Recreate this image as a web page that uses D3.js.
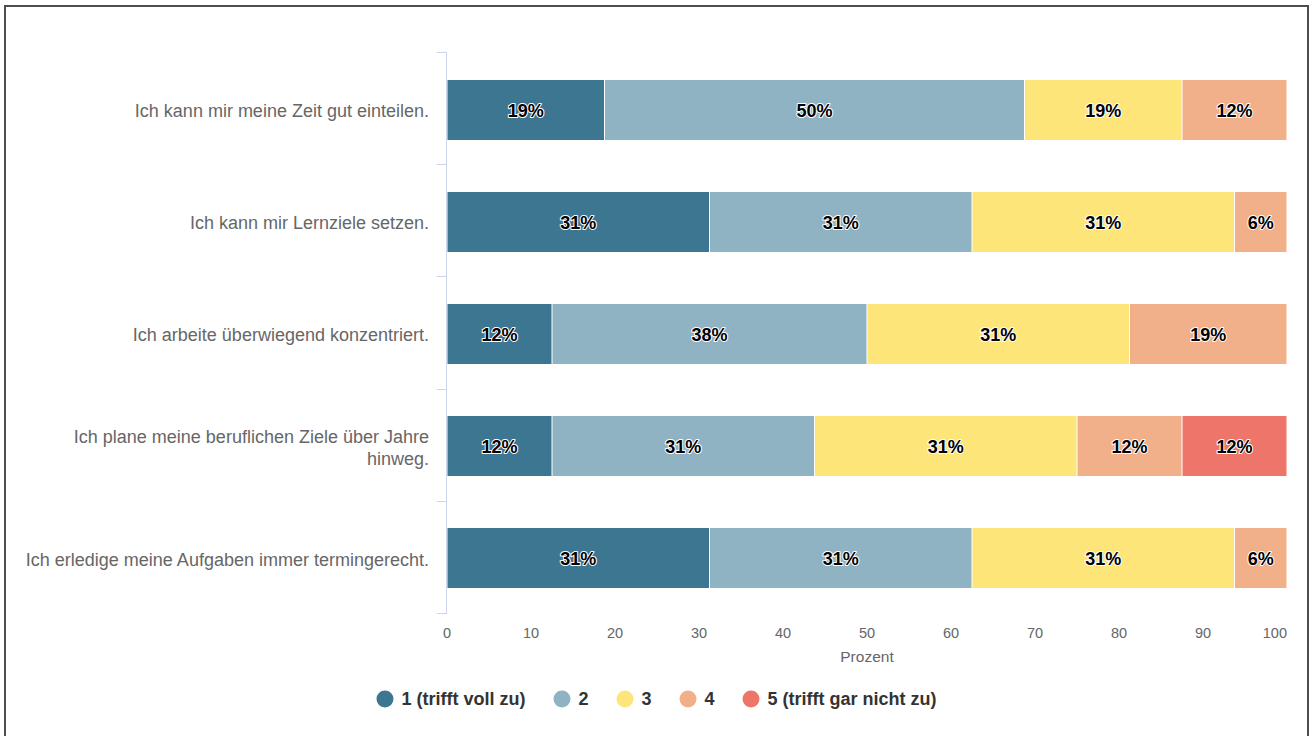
<!DOCTYPE html>
<html>
<head>
<meta charset="utf-8">
<script src="https://cdn.jsdelivr.net/npm/d3@7/dist/d3.min.js"></script>
<style>
  html, body { margin: 0; padding: 0; background: #fff; }
  svg { display: block; font-family: "Liberation Sans", Arial, Helvetica, sans-serif; }
</style>
</head>
<body>
<svg id="chart" width="1311" height="736"></svg>
<script>
// ---- data ----
const categories = [
  "Ich kann mir meine Zeit gut einteilen.",
  "Ich kann mir Lernziele setzen.",
  "Ich arbeite überwiegend konzentriert.",
  "Ich plane meine beruflichen Ziele über Jahre hinweg.",
  "Ich erledige meine Aufgaben immer termingerecht."
];
const seriesNames = ["1 (trifft voll zu)", "2", "3", "4", "5 (trifft gar nicht zu)"];
const seriesColors = ["#3d7690", "#8fb3c3", "#fee57a", "#f1b08a", "#ee756a"];
const s1 = [18.75, 31.25, 12.5, 12.5, 31.25];
const s2 = [50, 31.25, 37.5, 31.25, 31.25];
const s3 = [18.75, 31.25, 31.25, 31.25, 31.25];
const s4 = [12.5, 6.25, 18.75, 12.5, 6.25];
const s5 = [0, 0, 0, 12.5, 0];
const seriesValues = [s1, s2, s3, s4, s5];
const xTicks = [0, 10, 20, 30, 40, 50, 60, 70, 80, 90, 100];
const xAxisTitle = "Prozent";

// ---- layout ----
const svg = d3.select("#chart");
const W = 1311, H = 736;
const plot = { left: 447, right: 1287, top: 53, bottom: 614 };

svg.append("rect").attr("x", 5).attr("y", 6).attr("width", 1303).attr("height", 740)
  .attr("fill", "#fff").attr("stroke", "#4d4d4d").attr("stroke-width", 2);

const x = d3.scaleLinear().domain([0, 100]).range([plot.left, plot.right]);
const y = d3.scaleBand().domain(categories).range([plot.top, plot.bottom]).paddingInner(0).paddingOuter(0);

// stacks
const rows = categories.map((c, i) => {
  const o = { cat: c };
  seriesNames.forEach((s, j) => o[s] = seriesValues[j][i]);
  return o;
});
const stack = d3.stack().keys(seriesNames)(rows);

function roundHalfEven(v) {
  const f = Math.floor(v), d = v - f;
  if (Math.abs(d - 0.5) < 1e-9) return (f % 2 === 0) ? f : f + 1;
  return Math.round(v);
}

const barH = 60;
const g = svg.append("g");
stack.forEach((layer, j) => {
  const lg = g.append("g");
  layer.forEach((d, i) => {
    const v = d[1] - d[0];
    if (v <= 0) return;
    const cat = categories[i];
    const yc = Math.round(y(cat) + y.bandwidth() / 2 + 0.5);
    lg.append("rect")
      .attr("x", x(d[0]) + 0.5)
      .attr("y", yc - barH / 2)
      .attr("width", x(d[1]) - x(d[0]) - 1)
      .attr("height", barH)
      .attr("fill", seriesColors[j]);
    lg.append("text")
      .attr("x", (x(d[0]) + x(d[1])) / 2)
      .attr("y", yc + 1)
      .attr("dy", "0.35em")
      .attr("text-anchor", "middle")
      .attr("font-size", 18)
      .attr("font-weight", "bold")
      .attr("fill", "#000")
      .attr("stroke", "#fff")
      .attr("stroke-width", 2)
      .attr("stroke-linejoin", "round")
      .attr("paint-order", "stroke")
      .text(roundHalfEven(v) + "%");
  });
});

// y axis line + ticks
const axisColor = "#ccd6eb";
svg.append("line").attr("x1", plot.left - 0.5).attr("x2", plot.left - 0.5)
  .attr("y1", plot.top).attr("y2", plot.bottom).attr("stroke", axisColor);
const boundaries = categories.map(c => y(c)).concat([plot.bottom]);
boundaries.forEach(b => {
  svg.append("line").attr("x1", plot.left - 10).attr("x2", plot.left)
    .attr("y1", Math.round(b) - 0.5).attr("y2", Math.round(b) - 0.5).attr("stroke", axisColor);
});

// category labels
const wrapMap = { "Ich plane meine beruflichen Ziele über Jahre hinweg.": ["Ich plane meine beruflichen Ziele über Jahre", "hinweg."] };
categories.forEach(c => {
  const lines = wrapMap[c] || [c];
  const yc = y(c) + y.bandwidth() / 2 + 1.5;
  const t = svg.append("text").attr("text-anchor", "end").attr("font-size", 18)
    .attr("fill", "#666");
  const lh = 22;
  lines.forEach((ln, k) => {
    t.append("tspan").attr("x", 429)
      .attr("y", yc + (k - (lines.length - 1) / 2) * lh)
      .attr("dy", "0.35em").text(ln);
  });
});

// x axis labels
const xa = svg.append("g");
xTicks.forEach((tv, i) => {
  const last = i === xTicks.length - 1;
  xa.append("text").attr("x", last ? plot.right : x(tv)).attr("y", 638)
    .attr("text-anchor", last ? "end" : "middle")
    .attr("font-size", 14.5).attr("fill", "#666").text(tv);
});
svg.append("text").attr("x", (plot.left + plot.right) / 2).attr("y", 662)
  .attr("text-anchor", "middle").attr("font-size", 15.5).attr("fill", "#666").text(xAxisTitle);

// legend
const leg = svg.append("g");
let cx = 0;
seriesNames.forEach((s, j) => {
  const ig = leg.append("g");
  ig.append("circle").attr("cx", cx + 8.5).attr("cy", 0).attr("r", 8.5).attr("fill", seriesColors[j]);
  const t = ig.append("text").attr("x", cx + 25).attr("y", 0).attr("dy", "0.35em")
    .attr("font-size", 18).attr("font-weight", "bold").attr("fill", "#333").text(s);
  const w = t.node().getComputedTextLength();
  cx += 25 + w + 28;
});
const total = cx - 28;
leg.attr("transform", `translate(${(W) / 2 - total / 2 + 1},699)`);
</script>
</body>
</html>
